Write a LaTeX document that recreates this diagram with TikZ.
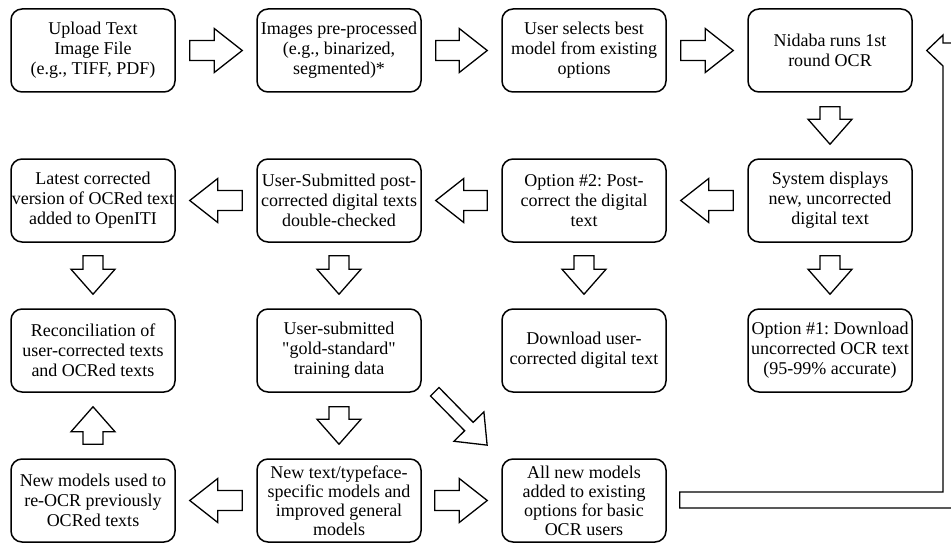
\documentclass[tikz,border=0pt]{standalone}
\usepackage{fontspec}
\setmainfont{Liberation Serif}
\usetikzlibrary{calc}
\frenchspacing
\tikzset{
  box/.style={draw, line width=1.5pt, rounded corners=11pt, minimum width=164pt,
    minimum height=83pt, inner sep=0pt, align=center,
    font=\fontsize{18}{20}\selectfont},
  tightbox/.style={box, font=\fontsize{18}{19}\selectfont},
  blockarr/.style={draw, line width=1.3pt, fill=white, line join=miter},
}
\newcommand{\blockarrow}[5]{%
  \draw[blockarr] let \p1=#1, \p2=#2, \n1={atan2(\y2-\y1,\x2-\x1)},
    \n2={veclen(\x2-\x1,\y2-\y1)} in
    [shift={(\p1)}, rotate=\n1]
    (0pt,#3) -- ({\n2*1pt-#5},#3) -- ({\n2*1pt-#5},#4) -- ({\n2*1pt},0pt)
    -- ({\n2*1pt-#5},-#4) -- ({\n2*1pt-#5},-#3) -- (0pt,-#3) -- cycle;}
\begin{document}
\begin{tikzpicture}[x=1pt,y=-1pt]
\useasboundingbox (0,0) rectangle (951,543);
\fill[white] (0,0) rectangle (951,543);
% row 1
\node[box] (n11) at (93,50.5) {Upload Text\\Image File\\(e.g., TIFF, PDF)};
\node[box] (n12) at (339,50.5) {Images pre-processed\\(e.g., binarized,\\segmented)*};
\node[box] (n13) at (584,50.5) {User selects best\\model from existing\\options};
\node[box] (n14) at (830,50.5) {Nidaba runs 1st\\round OCR};
% row 2
\node[box] (n21) at (93,200.5) {Latest corrected\\version of OCRed text\\added to OpenITI};
\node[box] (n22) at (339,200.5) {User-Submitted post-\\corrected digital texts\\double-checked};
\node[box] (n23) at (584,200.5) {Option \#2: Post-\\correct the digital\\text};
\node[box] (n24) at (830,200.5) {System displays\\new, uncorrected\\digital text};
% row 3
\node[box] (n31) at (93,350.5) {Reconciliation of\\user-corrected texts\\and OCRed texts};
\node[box] (n32) at (339,350.5) {User-submitted\\\textquotedbl gold-standard\textquotedbl\\training data};
\node[box] (n33) at (584,350.5) {Download user-\\corrected digital text};
\node[box] (n34) at (830,350.5) {Option \#1: Download\\uncorrected OCR text\\(95-99\% accurate)};
% row 4
\node[box] (n41) at (93,500.5) {New models used to\\re-OCR previously\\OCRed texts};
\node[tightbox] (n42) at (339,500.5) {New text/typeface-\\specific models and\\improved general\\models};
\node[tightbox] (n43) at (584,500.5) {All new models\\added to existing\\options for basic\\OCR users};
% horizontal arrows
\blockarrow{($(n11.east)+(14,0)$)}{($(n12.west)+(-14,0)$)}{10pt}{22pt}{28pt}
\blockarrow{($(n12.east)+(14,0)$)}{($(n13.west)+(-14,0)$)}{10pt}{22pt}{28pt}
\blockarrow{($(n13.east)+(14,0)$)}{($(n14.west)+(-14,0)$)}{10pt}{22pt}{28pt}
\blockarrow{($(n24.west)+(-14,0)$)}{($(n23.east)+(14,0)$)}{10pt}{22pt}{28pt}
\blockarrow{($(n23.west)+(-14,0)$)}{($(n22.east)+(14,0)$)}{10pt}{22pt}{28pt}
\blockarrow{($(n22.west)+(-14,0)$)}{($(n21.east)+(14,0)$)}{10pt}{22pt}{28pt}
\blockarrow{($(n42.west)+(-14,0)$)}{($(n41.east)+(14,0)$)}{10pt}{22pt}{28pt}
\blockarrow{($(n42.east)+(13,0)$)}{($(n43.west)+(-14,0)$)}{10pt}{22pt}{28pt}
% vertical arrows
\blockarrow{($(n14.south)+(0,14)$)}{($(n24.north)+(0,-14)$)}{10pt}{22pt}{25pt}
\blockarrow{($(n21.south)+(0,13)$)}{($(n31.north)+(0,-14)$)}{10pt}{22pt}{25pt}
\blockarrow{($(n22.south)+(0,13)$)}{($(n32.north)+(0,-14)$)}{10pt}{22pt}{25pt}
\blockarrow{($(n23.south)+(0,13)$)}{($(n33.north)+(0,-14)$)}{10pt}{22pt}{25pt}
\blockarrow{($(n24.south)+(0,13)$)}{($(n34.north)+(0,-14)$)}{10pt}{22pt}{25pt}
\blockarrow{($(n32.south)+(0,14)$)}{($(n42.north)+(0,-14)$)}{10pt}{22pt}{25pt}
\blockarrow{($(n41.north)+(0,-14)$)}{($(n31.south)+(0,14)$)}{10pt}{22pt}{25pt}
% diagonal arrow
\blockarrow{($(n32.south east)+(13,-1)$)}{($(n43.north west)+(-14,-13)$)}{6pt}{21pt}{26pt}
% bent return arrow
\coordinate (btip) at ($(n14.east)+(14,0)$);
\draw[blockarr] ($(n43.east)+(13,-8.5)$) -- (943,492) -- (943,66) -- (btip)
  -- (943,35) -- (943,43) -- (960,43) -- (960,508) -- ($(n43.east)+(13,7.5)$) -- cycle;
\end{tikzpicture}
\end{document}
